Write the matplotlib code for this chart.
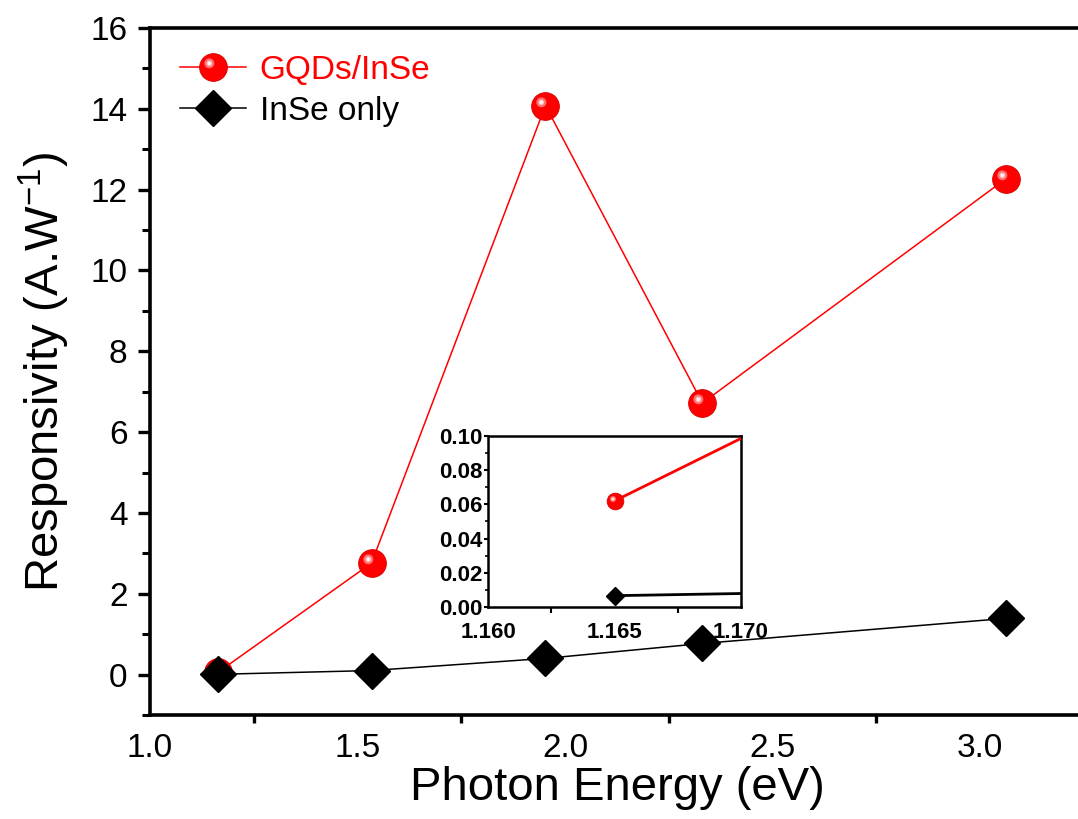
import matplotlib
matplotlib.use("Agg")
import matplotlib.pyplot as plt
from matplotlib.path import Path
from matplotlib.legend_handler import HandlerTuple
from matplotlib.ticker import MultipleLocator, FormatStrFormatter

plt.rcParams['font.family'] = ['Liberation Sans', 'DejaVu Sans']
plt.rcParams['mathtext.fontset'] = 'custom'
plt.rcParams['mathtext.rm'] = 'Liberation Sans'

# photon energy (eV) for 1064, 808, 635, 532, 405 nm
energy = [1.165, 1.534, 1.953, 2.331, 3.062]
resp_gqd = [0.062, 2.76, 14.08, 6.72, 12.27]
resp_inse = [0.0066, 0.10, 0.40, 0.77, 1.39]

label_gqd = 'GQDs/InSe'
label_inse = 'InSe only'

RED = '#ff0000'


def highlight_marker(r):
    # small circle up-left of the marker centre, used as a specular spot
    return Path.circle((-0.15, 0.15), r)


def sphere(ax, x, y, ms, lw, label=None):
    base, = ax.plot(x, y, '-', color=RED, lw=lw, marker='o', ms=ms,
                    mfc=RED, mec='#d80000', mew=0.6, label=label, zorder=3)
    spots = []
    for r, c in [(0.18, '#ff7070'), (0.10, '#ffc8c8'), (0.05, '#ffffff')]:
        m = 0.15 + r
        sp, = ax.plot(x, y, ls='none', marker=highlight_marker(r),
                      ms=ms * 2 * m, mfc=c, mec='none', zorder=4)
        spots.append(sp)
    return base, spots


fig = plt.figure(figsize=(10.78, 8.19), dpi=100)
ax = fig.add_axes([0.139, 0.127, 0.8665, 0.8388])

base, spots = sphere(ax, energy, resp_gqd, 20, 1.1)
inse_line, = ax.plot(energy, resp_inse, '-', color='black', lw=1.1, marker='D',
                     ms=18, mfc='black', mec='black', zorder=5)

ax.set_xlim(1.0, 3.25)
ax.set_ylim(-1, 16)
ax.xaxis.set_major_locator(MultipleLocator(0.5))
ax.xaxis.set_minor_locator(MultipleLocator(0.25))
ax.yaxis.set_minor_locator(MultipleLocator(1))
ax.xaxis.set_major_formatter(FormatStrFormatter('%.1f'))
ax.set_yticks(range(0, 17, 2))
ax.yaxis.set_major_formatter(FormatStrFormatter('%d'))

for s in ax.spines.values():
    s.set_linewidth(2.6)
ax.spines['right'].set_visible(False)
ax.tick_params(axis='y', which='major', direction='out', length=9, width=2.4,
               labelsize=24, pad=7)
ax.tick_params(axis='y', which='minor', direction='out', length=5.5, width=2.2)
ax.tick_params(axis='x', which='major', length=0, labelsize=24, pad=13)
ax.tick_params(axis='x', which='minor', direction='out', length=6, width=2.4)

ax.set_xlabel('Photon Energy (eV)', fontsize=34)
ax.set_ylabel('Responsivity (A.W$^{-1}$)', fontsize=34)
ax.xaxis.set_label_coords(0.5, -0.074)
ax.yaxis.set_label_coords(-0.083, 0.5)

leg = ax.legend([tuple([base] + spots), inse_line], [label_gqd, label_inse],
                handler_map={tuple: HandlerTuple(ndivide=1, pad=0)},
                loc='upper left', frameon=False, fontsize=24, numpoints=1,
                handlelength=2.0, handletextpad=0.4, labelspacing=0.3,
                borderaxespad=0.3, bbox_to_anchor=(0.007, 0.995))
leg.get_texts()[0].set_color(RED)

# zoomed view of the 1064 nm point
ins = fig.add_axes([0.4527, 0.2589, 0.2347, 0.2088])
sphere(ins, energy, resp_gqd, 12, 2.0)
ins.plot(energy, resp_inse, '-', color='black', lw=2.0, marker='D',
         ms=9, mfc='black', mec='black', zorder=5)
ins.set_xlim(1.160, 1.170)
ins.set_ylim(0.0, 0.10)
ins.xaxis.set_major_locator(MultipleLocator(0.005))
ins.xaxis.set_minor_locator(MultipleLocator(0.0025))
ins.yaxis.set_major_locator(MultipleLocator(0.02))
ins.yaxis.set_minor_locator(MultipleLocator(0.01))
ins.xaxis.set_major_formatter(FormatStrFormatter('%.3f'))
ins.yaxis.set_major_formatter(FormatStrFormatter('%.2f'))
for s in ins.spines.values():
    s.set_linewidth(1.8)
ins.tick_params(axis='y', which='major', direction='out', length=3, width=1.5,
                labelsize=16, pad=1)
ins.tick_params(axis='y', which='minor', direction='out', length=2, width=1.2)
ins.tick_params(axis='x', which='major', length=0, labelsize=16, pad=11)
ins.tick_params(axis='x', which='minor', direction='out', length=4, width=1.5)
for t in ins.get_xticklabels() + ins.get_yticklabels():
    t.set_fontweight('bold')

fig.savefig('out.png', dpi=100)
